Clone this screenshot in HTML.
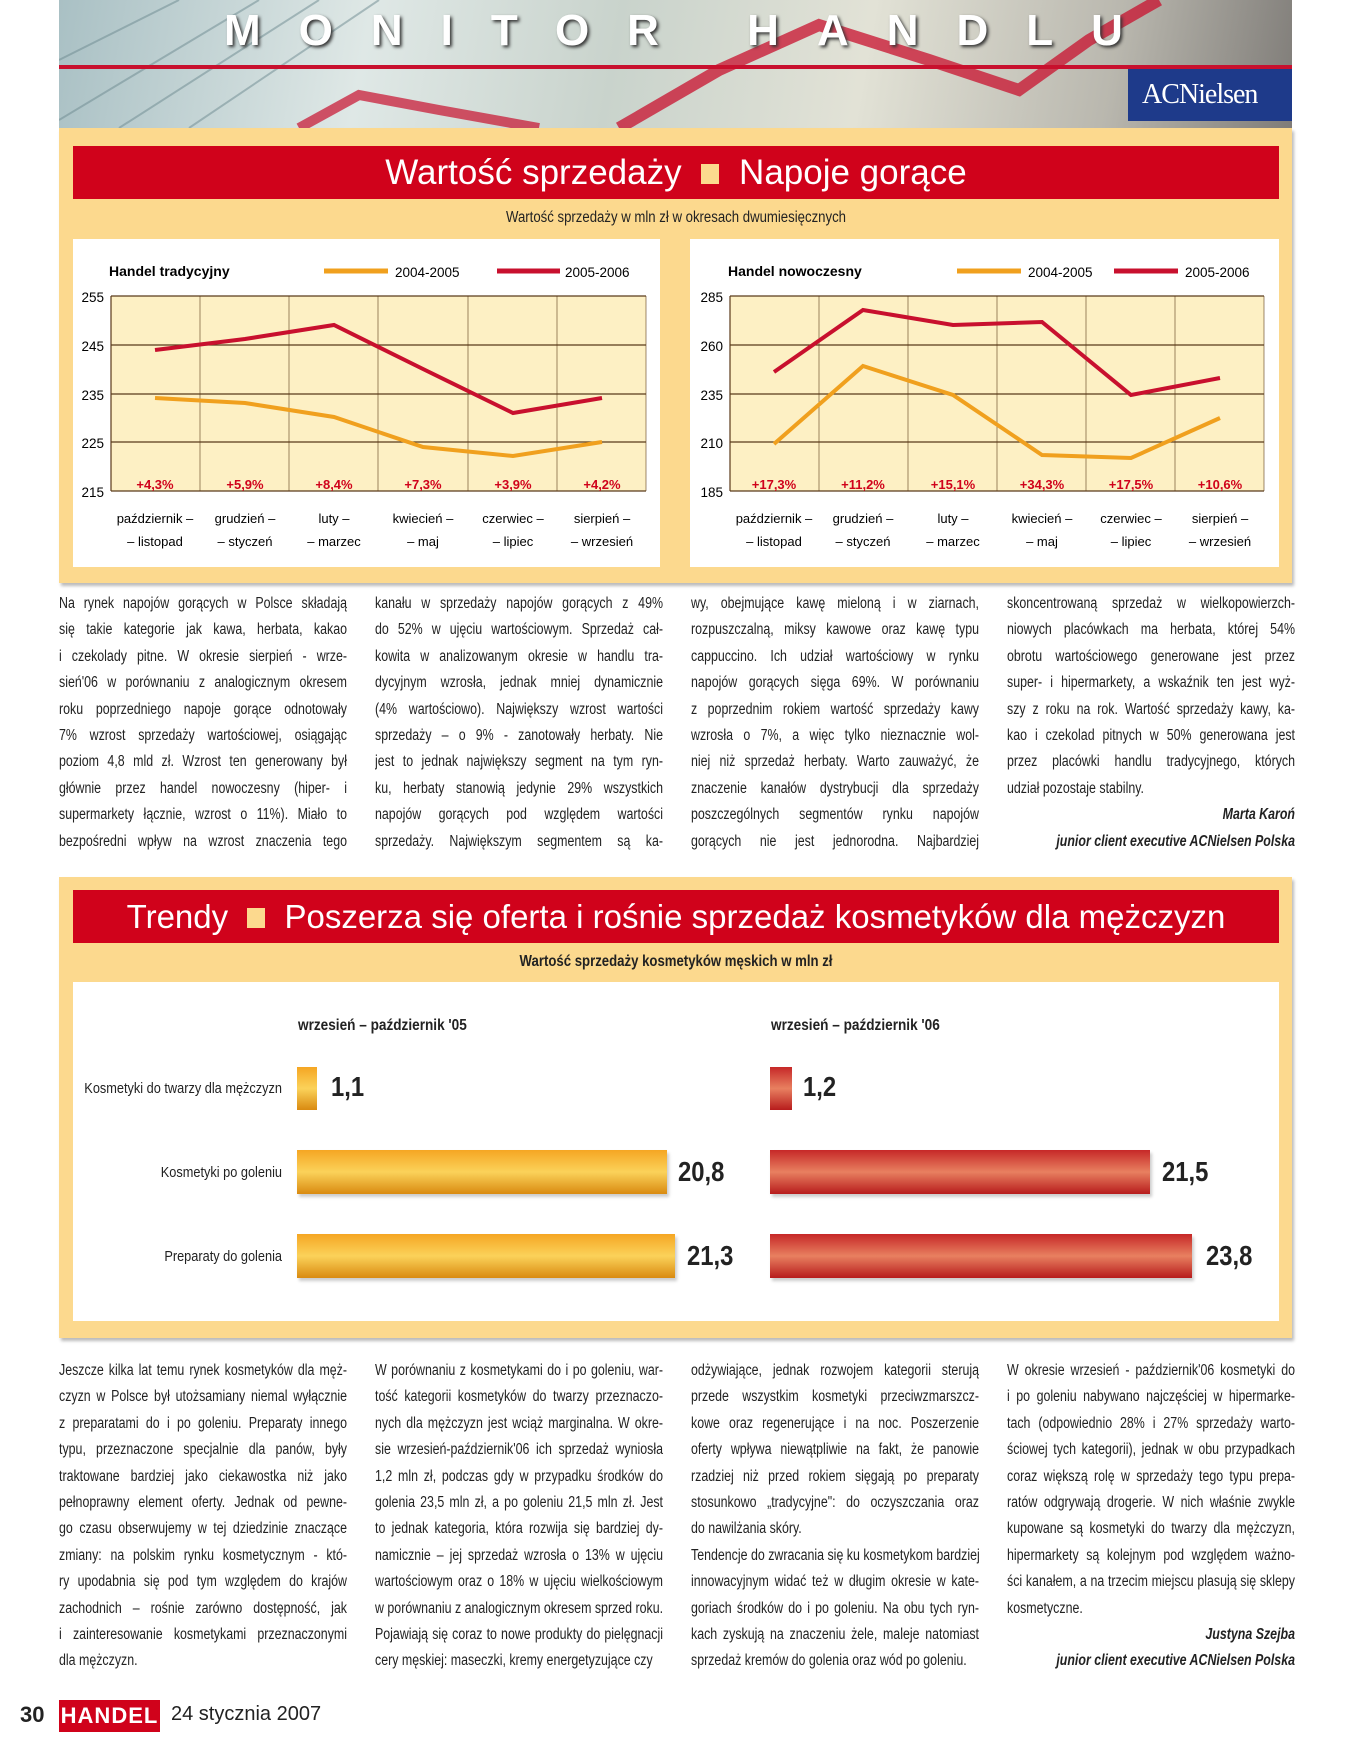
<!DOCTYPE html>
<html><head><meta charset="utf-8">
<style>
*{margin:0;padding:0;box-sizing:border-box}
body{width:1352px;height:1754px;background:#fff;position:relative;overflow:hidden;font-family:"Liberation Sans",sans-serif;color:#222}
.abs{position:absolute}
.col{position:absolute;width:290px;font-size:15.5px;line-height:26.4px;overflow:hidden}
.col div{white-space:nowrap;width:360px;transform:scaleX(.8);transform-origin:left;text-align:justify;text-align-last:justify}
.col div.l{text-align-last:left}
.col div.r{text-align:right;text-align-last:right;font-style:italic;font-weight:bold}
.bar{position:absolute;background:#d0021b;color:#fff;font-family:"Liberation Sans",sans-serif;text-align:center}
.rl{position:absolute;left:20px;width:262px;text-align:right;font-size:15px;white-space:nowrap;transform:scaleX(.85);transform-origin:right}
.v{position:absolute;font-size:28px;font-weight:bold;transform:scaleX(.85);transform-origin:left}
</style></head><body>

<div class="abs" style="left:59px;top:0;width:1233px;height:128px;background:linear-gradient(100deg,#a9c0c4 0%,#dfe8e6 25%,#c9d3cc 45%,#e2e2d6 65%,#b9b7ae 85%,#7f7c78 100%);overflow:hidden">
<svg width="1233" height="128" class="abs" style="left:0;top:0">
<g stroke="#6d8a90" stroke-width="2" opacity=".5"><line x1="0" y1="120" x2="200" y2="0"/><line x1="60" y1="128" x2="260" y2="0"/><line x1="130" y1="128" x2="320" y2="0"/><line x1="0" y1="60" x2="120" y2="0"/></g>
<line x1="0" y1="67" x2="1233" y2="67" stroke="#c8102e" stroke-width="4"/>
<polyline points="240,128 300,95 380,110 480,128" fill="none" stroke="#c8102e" stroke-width="10" opacity=".7"/>
<polyline points="560,128 660,70 760,25 870,60 960,90 1030,40 1100,0" fill="none" stroke="#c8102e" stroke-width="12" opacity=".75"/>
</svg>
<div class="abs" style="left:165px;top:6px;font:bold 44px 'Liberation Sans',sans-serif;color:#fff;letter-spacing:38px;text-shadow:2px 2px 3px #333;white-space:nowrap">MONITOR HANDLU</div>
<div class="abs" style="left:1069px;top:69px;width:164px;height:52px;background:#1e3a8a;color:#fff;font:28px 'Liberation Serif',serif;letter-spacing:-1px;padding:10px 0 0 14px">ACNielsen</div>
</div>

<div class="abs" style="left:59px;top:128px;width:1233px;height:455px;background:#fcd98e;box-shadow:2px 3px 3px #bbb"></div>
<div class="bar" style="left:73px;top:146px;width:1206px;height:53px;font-size:35px;line-height:53px">Wartość sprzedaży <span style="display:inline-block;width:18px;height:20px;background:#fcd98e;margin:0 10px"></span> Napoje gorące</div>
<div class="abs" style="left:0;width:1352px;top:209px;text-align:center;font-size:15.5px;transform:scaleX(.85)">Wartość sprzedaży w mln zł w okresach dwumiesięcznych</div>
<div class="abs" style="left:73px;top:239px;width:587px;height:328px;background:#fff"></div>
<div class="abs" style="left:690px;top:239px;width:589px;height:328px;background:#fff"></div>

<svg class="abs" style="left:0;top:0" width="1352" height="600" font-family="Liberation Sans, sans-serif">
<rect x="111" y="296" width="535" height="195" fill="#fdf0c4"/>
<g stroke="#5a3a1a" stroke-width="1.2">
<line x1="111" y1="296" x2="646" y2="296"/><line x1="111" y1="345" x2="646" y2="345"/><line x1="111" y1="394" x2="646" y2="394"/><line x1="111" y1="442" x2="646" y2="442"/><line x1="111" y1="491" x2="646" y2="491"/>
<line x1="111" y1="296" x2="111" y2="491"/><line x1="200" y1="296" x2="200" y2="491" stroke-width=".6"/><line x1="289" y1="296" x2="289" y2="491" stroke-width=".6"/><line x1="378" y1="296" x2="378" y2="491" stroke-width=".6"/><line x1="468" y1="296" x2="468" y2="491" stroke-width=".6"/><line x1="557" y1="296" x2="557" y2="491" stroke-width=".6"/><line x1="646" y1="296" x2="646" y2="491" stroke-width=".6"/>
</g>
<polyline points="155,398 245,403 334,417 423,447 513,456 602,442" fill="none" stroke="#f0a01e" stroke-width="4"/>
<polyline points="155,350 245,339 334,325 423,369 513,413 602,398" fill="none" stroke="#c8102e" stroke-width="4"/>
<g font-size="13.5" text-anchor="end"><text x="104" y="302">255</text><text x="104" y="351">245</text><text x="104" y="400">235</text><text x="104" y="448">225</text><text x="104" y="497">215</text></g>
<g font-size="13" fill="#d0021b" font-weight="bold" text-anchor="middle"><text x="155" y="489">+4,3%</text><text x="245" y="489">+5,9%</text><text x="334" y="489">+8,4%</text><text x="423" y="489">+7,3%</text><text x="513" y="489">+3,9%</text><text x="602" y="489">+4,2%</text></g>
<g font-size="13" text-anchor="middle"><text x="155" y="523">październik –</text><text x="155" y="546">– listopad</text><text x="245" y="523">grudzień –</text><text x="245" y="546">– styczeń</text><text x="334" y="523">luty –</text><text x="334" y="546">– marzec</text><text x="423" y="523">kwiecień –</text><text x="423" y="546">– maj</text><text x="513" y="523">czerwiec –</text><text x="513" y="546">– lipiec</text><text x="602" y="523">sierpień –</text><text x="602" y="546">– wrzesień</text></g>
<text x="109" y="276" font-size="14" font-weight="bold">Handel tradycyjny</text>
<line x1="324" y1="271" x2="388" y2="271" stroke="#f0a01e" stroke-width="5"/><text x="395" y="277" font-size="13.5">2004-2005</text>
<line x1="497" y1="271" x2="560" y2="271" stroke="#c8102e" stroke-width="5"/><text x="565" y="277" font-size="13.5">2005-2006</text>

<rect x="730" y="296" width="534" height="195" fill="#fdf0c4"/>
<g stroke="#5a3a1a" stroke-width="1.2">
<line x1="730" y1="296" x2="1264" y2="296"/><line x1="730" y1="345" x2="1264" y2="345"/><line x1="730" y1="394" x2="1264" y2="394"/><line x1="730" y1="442" x2="1264" y2="442"/><line x1="730" y1="491" x2="1264" y2="491"/>
<line x1="730" y1="296" x2="730" y2="491"/><line x1="819" y1="296" x2="819" y2="491" stroke-width=".6"/><line x1="908" y1="296" x2="908" y2="491" stroke-width=".6"/><line x1="997" y1="296" x2="997" y2="491" stroke-width=".6"/><line x1="1086" y1="296" x2="1086" y2="491" stroke-width=".6"/><line x1="1175" y1="296" x2="1175" y2="491" stroke-width=".6"/><line x1="1264" y1="296" x2="1264" y2="491" stroke-width=".6"/>
</g>
<polyline points="774,444 863,366 953,395 1042,455 1131,458 1220,418" fill="none" stroke="#f0a01e" stroke-width="4"/>
<polyline points="774,372 863,310 953,325 1042,322 1131,395 1220,378" fill="none" stroke="#c8102e" stroke-width="4"/>
<g font-size="13.5" text-anchor="end"><text x="723" y="302">285</text><text x="723" y="351">260</text><text x="723" y="400">235</text><text x="723" y="448">210</text><text x="723" y="497">185</text></g>
<g font-size="13" fill="#d0021b" font-weight="bold" text-anchor="middle"><text x="774" y="489">+17,3%</text><text x="863" y="489">+11,2%</text><text x="953" y="489">+15,1%</text><text x="1042" y="489">+34,3%</text><text x="1131" y="489">+17,5%</text><text x="1220" y="489">+10,6%</text></g>
<g font-size="13" text-anchor="middle"><text x="774" y="523">październik –</text><text x="774" y="546">– listopad</text><text x="863" y="523">grudzień –</text><text x="863" y="546">– styczeń</text><text x="953" y="523">luty –</text><text x="953" y="546">– marzec</text><text x="1042" y="523">kwiecień –</text><text x="1042" y="546">– maj</text><text x="1131" y="523">czerwiec –</text><text x="1131" y="546">– lipiec</text><text x="1220" y="523">sierpień –</text><text x="1220" y="546">– wrzesień</text></g>
<text x="728" y="276" font-size="14" font-weight="bold">Handel nowoczesny</text>
<line x1="957" y1="271" x2="1021" y2="271" stroke="#f0a01e" stroke-width="5"/><text x="1028" y="277" font-size="13.5">2004-2005</text>
<line x1="1114" y1="271" x2="1178" y2="271" stroke="#c8102e" stroke-width="5"/><text x="1185" y="277" font-size="13.5">2005-2006</text>
</svg>

<div class="col" style="left:59px;top:591px">
<div>Na rynek napojów gorących w Polsce składają</div><div>się takie kategorie jak kawa, herbata, kakao</div><div>i czekolady pitne. W okresie sierpień - wrze-</div><div>sień'06 w porównaniu z analogicznym okresem</div><div>roku poprzedniego napoje gorące odnotowały</div><div>7% wzrost sprzedaży wartościowej, osiągając</div><div>poziom 4,8 mld zł. Wzrost ten generowany był</div><div>głównie przez handel nowoczesny (hiper- i</div><div>supermarkety łącznie, wzrost o 11%). Miało to</div><div>bezpośredni wpływ na wzrost znaczenia tego</div>
</div>
<div class="col" style="left:375px;top:591px">
<div>kanału w sprzedaży napojów gorących z 49%</div><div>do 52% w ujęciu wartościowym. Sprzedaż cał-</div><div>kowita w analizowanym okresie w handlu tra-</div><div>dycyjnym wzrosła, jednak mniej dynamicznie</div><div>(4% wartościowo). Największy wzrost wartości</div><div>sprzedaży – o 9% - zanotowały herbaty. Nie</div><div>jest to jednak największy segment na tym ryn-</div><div>ku, herbaty stanowią jedynie 29% wszystkich</div><div>napojów gorących pod względem wartości</div><div>sprzedaży. Największym segmentem są ka-</div>
</div>
<div class="col" style="left:691px;top:591px">
<div>wy, obejmujące kawę mieloną i w ziarnach,</div><div>rozpuszczalną, miksy kawowe oraz kawę typu</div><div>cappuccino. Ich udział wartościowy w rynku</div><div>napojów gorących sięga 69%. W porównaniu</div><div>z poprzednim rokiem wartość sprzedaży kawy</div><div>wzrosła o 7%, a więc tylko nieznacznie wol-</div><div>niej niż sprzedaż herbaty. Warto zauważyć, że</div><div>znaczenie kanałów dystrybucji dla sprzedaży</div><div>poszczególnych segmentów rynku napojów</div><div>gorących nie jest jednorodna. Najbardziej</div>
</div>
<div class="col" style="left:1007px;top:591px">
<div>skoncentrowaną sprzedaż w wielkopowierzch-</div><div>niowych placówkach ma herbata, której 54%</div><div>obrotu wartościowego generowane jest przez</div><div>super- i hipermarkety, a wskaźnik ten jest wyż-</div><div>szy z roku na rok. Wartość sprzedaży kawy, ka-</div><div>kao i czekolad pitnych w 50% generowana jest</div><div>przez placówki handlu tradycyjnego, których</div><div class="l">udział pozostaje stabilny.</div><div class="r">Marta Karoń</div><div class="r">junior client executive ACNielsen Polska</div>
</div>

<div class="abs" style="left:59px;top:877px;width:1233px;height:461px;background:#fcd98e;box-shadow:2px 3px 3px #bbb"></div>
<div class="bar" style="left:73px;top:890px;width:1206px;height:53px;font-size:33px;line-height:53px">Trendy <span style="display:inline-block;width:18px;height:20px;background:#fcd98e;margin:0 10px"></span> Poszerza się oferta i rośnie sprzedaż kosmetyków dla mężczyzn</div>
<div class="abs" style="left:0;width:1352px;top:953px;text-align:center;font-size:15.5px;font-weight:bold;transform:scaleX(.85)">Wartość sprzedaży kosmetyków męskich w mln zł</div>
<div class="abs" style="left:73px;top:982px;width:1206px;height:339px;background:#fff"></div>
<div class="abs" style="left:298px;top:1017px;font-size:16px;font-weight:bold;transform:scaleX(.85);transform-origin:left">wrzesień – październik '05</div>
<div class="abs" style="left:771px;top:1017px;font-size:16px;font-weight:bold;transform:scaleX(.85);transform-origin:left">wrzesień – październik '06</div>
<div class="rl" style="top:1080px">Kosmetyki do twarzy dla mężczyzn</div>
<div class="rl" style="top:1164px">Kosmetyki po goleniu</div>
<div class="rl" style="top:1248px">Preparaty do golenia</div>
<div class="abs" style="left:297px;top:1067px;width:20px;height:43px;background:linear-gradient(#f5a623,#fbd25a 50%,#d98a10)"></div>
<div class="abs" style="left:297px;top:1150px;width:370px;height:44px;background:linear-gradient(#f5a623,#fbd25a 50%,#d98a10);box-shadow:2px 3px 3px #ccc"></div>
<div class="abs" style="left:297px;top:1234px;width:378px;height:44px;background:linear-gradient(#f5a623,#fbd25a 50%,#d98a10);box-shadow:2px 3px 3px #ccc"></div>
<div class="abs" style="left:770px;top:1067px;width:22px;height:43px;background:linear-gradient(#c62828,#e88060 50%,#b71c1c)"></div>
<div class="abs" style="left:770px;top:1150px;width:380px;height:44px;background:linear-gradient(#c62828,#e88060 50%,#b71c1c);box-shadow:2px 3px 3px #ccc"></div>
<div class="abs" style="left:770px;top:1234px;width:422px;height:44px;background:linear-gradient(#c62828,#e88060 50%,#b71c1c);box-shadow:2px 3px 3px #ccc"></div>
<div class="v" style="left:331px;top:1071px">1,1</div>
<div class="v" style="left:803px;top:1071px">1,2</div>
<div class="v" style="left:678px;top:1156px">20,8</div>
<div class="v" style="left:687px;top:1240px">21,3</div>
<div class="v" style="left:1162px;top:1156px">21,5</div>
<div class="v" style="left:1206px;top:1240px">23,8</div>

<div class="col" style="left:59px;top:1358px">
<div>Jeszcze kilka lat temu rynek kosmetyków dla męż-</div><div>czyzn w Polsce był utożsamiany niemal wyłącznie</div><div>z preparatami do i po goleniu. Preparaty innego</div><div>typu, przeznaczone specjalnie dla panów, były</div><div>traktowane bardziej jako ciekawostka niż jako</div><div>pełnoprawny element oferty. Jednak od pewne-</div><div>go czasu obserwujemy w tej dziedzinie znaczące</div><div>zmiany: na polskim rynku kosmetycznym - któ-</div><div>ry upodabnia się pod tym względem do krajów</div><div>zachodnich – rośnie zarówno dostępność, jak</div><div>i zainteresowanie kosmetykami przeznaczonymi</div><div class="l">dla mężczyzn.</div>
</div>
<div class="col" style="left:375px;top:1358px">
<div>W porównaniu z kosmetykami do i po goleniu, war-</div><div>tość kategorii kosmetyków do twarzy przeznaczo-</div><div>nych dla mężczyzn jest wciąż marginalna. W okre-</div><div>sie wrzesień-październik'06 ich sprzedaż wyniosła</div><div>1,2 mln zł, podczas gdy w przypadku środków do</div><div>golenia 23,5 mln zł, a po goleniu 21,5 mln zł. Jest</div><div>to jednak kategoria, która rozwija się bardziej dy-</div><div>namicznie – jej sprzedaż wzrosła o 13% w ujęciu</div><div>wartościowym oraz o 18% w ujęciu wielkościowym</div><div>w porównaniu z analogicznym okresem sprzed roku.</div><div>Pojawiają się coraz to nowe produkty do pielęgnacji</div><div class="l">cery męskiej: maseczki, kremy energetyzujące czy</div>
</div>
<div class="col" style="left:691px;top:1358px">
<div>odżywiające, jednak rozwojem kategorii sterują</div><div>przede wszystkim kosmetyki przeciwzmarszcz-</div><div>kowe oraz regenerujące i na noc. Poszerzenie</div><div>oferty wpływa niewątpliwie na fakt, że panowie</div><div>rzadziej niż przed rokiem sięgają po preparaty</div><div>stosunkowo „tradycyjne": do oczyszczania oraz</div><div class="l">do nawilżania skóry.</div><div>Tendencje do zwracania się ku kosmetykom bardziej</div><div>innowacyjnym widać też w długim okresie w kate-</div><div>goriach środków do i po goleniu. Na obu tych ryn-</div><div>kach zyskują na znaczeniu żele, maleje natomiast</div><div class="l">sprzedaż kremów do golenia oraz wód po goleniu.</div>
</div>
<div class="col" style="left:1007px;top:1358px">
<div>W okresie wrzesień - październik'06 kosmetyki do</div><div>i po goleniu nabywano najczęściej w hipermarke-</div><div>tach (odpowiednio 28% i 27% sprzedaży warto-</div><div>ściowej tych kategorii), jednak w obu przypadkach</div><div>coraz większą rolę w sprzedaży tego typu prepa-</div><div>ratów odgrywają drogerie. W nich właśnie zwykle</div><div>kupowane są kosmetyki do twarzy dla mężczyzn,</div><div>hipermarkety są kolejnym pod względem ważno-</div><div>ści kanałem, a na trzecim miejscu plasują się sklepy</div><div class="l">kosmetyczne.</div><div class="r">Justyna Szejba</div><div class="r">junior client executive ACNielsen Polska</div>
</div>

<div class="abs" style="left:20px;top:1702px;font:bold 22px 'Liberation Sans',sans-serif">30</div>
<div class="abs" style="left:59px;top:1700px;width:101px;height:32px;background:#d0021b;color:#fff;font:bold 22px 'Liberation Sans',sans-serif;text-align:center;line-height:32px;letter-spacing:1px">HANDEL</div>
<div class="abs" style="left:171px;top:1703px;font:20px 'Liberation Sans',sans-serif">24 stycznia 2007</div>
</body></html>
